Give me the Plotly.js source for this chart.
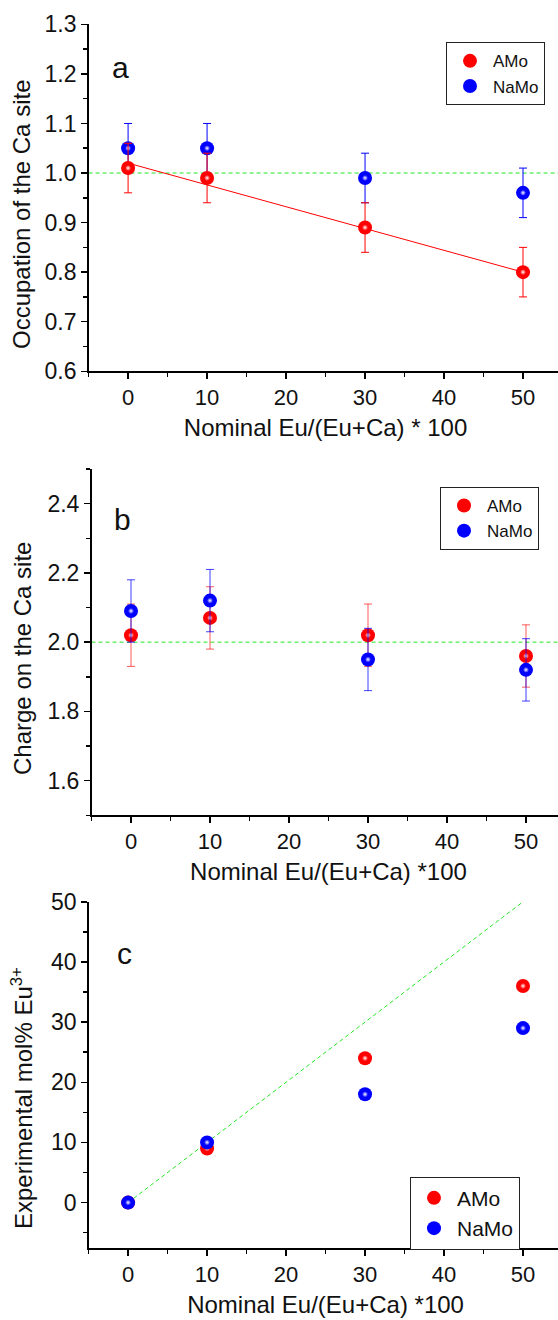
<!DOCTYPE html>
<html><head><meta charset="utf-8">
<script src="https://cdn.plot.ly/plotly-3.0.1.min.js"></script>
<style>html,body{margin:0;padding:0;overflow:hidden;background:#fff}#chart{width:570px;height:1320px}</style>
</head><body><div id="chart"></div>
<script>
// ---------- data ----------
const nominal = [0, 10, 30, 50];
const seriesNames = ['AMo', 'NaMo'];

const occAMo = [1.01, 0.99, 0.89, 0.80];
const occAMoErr = [0.05, 0.05, 0.05, 0.05];
const occNaMo = [1.05, 1.05, 0.99, 0.96];
const occNaMoErr = [0.05, 0.05, 0.05, 0.05];
const occFitX = [0, 50];
const occFitY = [1.02, 0.80];
const occRef = [1.0];

const chgAMo = [2.02, 2.07, 2.02, 1.96];
const chgAMoErr = [0.09, 0.09, 0.09, 0.09];
const chgNaMo = [2.09, 2.12, 1.95, 1.92];
const chgNaMoErr = [0.09, 0.09, 0.09, 0.09];
const chgRef = [2.0];

const expAMo = [0, 9, 24, 36];
const expNaMo = [0, 10, 18, 29];
const idealX = [0, 50];
const idealY = [0, 50];

const panelLabels = ['a', 'b', 'c'];
const xTitles = ['Nominal Eu/(Eu+Ca) * 100', 'Nominal Eu/(Eu+Ca) *100', 'Nominal Eu/(Eu+Ca) *100'];
const yTitles = ['Occupation of the Ca site', 'Charge on the Ca site', 'Experimental mol% Eu<sup>3+</sup>'];

// ---------- layout helpers ----------
const W = 570, H = 1320;
const fx = p => p / W;
const fy = p => 1 - p / H;
const FONT = 'Liberation Sans, Arial, sans-serif';
const RED = '#ff0000', BLUE = '#0000ff', GREEN = '#22e622';

const P = [
  {l: 88.6, r: 562.5, t: 24.3, b: 371.3},
  {l: 91.5, r: 565.5, t: 469, b: 815.3},
  {l: 88.6, r: 562.5, t: 901.7, b: 1248.3}
];

function pts(x, y, err, name, color, errColor, xa, ya, leg, rank, show) {
  const base = {
    type: 'scatter', mode: 'markers', x: x, y: y, name: name,
    xaxis: xa, yaxis: ya, legend: leg, legendrank: rank, showlegend: show,
    marker: {size: 14, color: color, line: {width: 0}}
  };
  if (err) base.error_y = {type: 'data', array: err, visible: true, color: errColor, thickness: 1, width: 4};
  const hi = {
    type: 'scatter', mode: 'markers', x: x, y: y, xaxis: xa, yaxis: ya,
    showlegend: false, hoverinfo: 'skip',
    marker: {size: 6, color: color, gradient: {type: 'radial', color: '#ffffff'}, line: {width: 0}}
  };
  return [base, hi];
}

const traces = [];
// panel a
traces.push({type: 'scatter', mode: 'lines', x: occFitX, y: occFitY, xaxis: 'x', yaxis: 'y',
  line: {color: RED, width: 1}, showlegend: false, hoverinfo: 'skip'});
traces.push(...pts(nominal, occNaMo, occNaMoErr, seriesNames[1], BLUE, BLUE, 'x', 'y', 'legend', 2, true));
traces.push(...pts(nominal, occAMo, occAMoErr, seriesNames[0], RED, RED, 'x', 'y', 'legend', 1, true));
// panel b
traces.push(...pts(nominal, chgAMo, chgAMoErr, seriesNames[0], RED, 'rgba(255,0,0,0.65)', 'x2', 'y2', 'legend2', 1, true));
traces.push(...pts(nominal, chgNaMo, chgNaMoErr, seriesNames[1], BLUE, 'rgba(0,0,255,0.75)', 'x2', 'y2', 'legend2', 2, true));
// panel c
traces.push({type: 'scatter', mode: 'lines', x: idealX, y: idealY, xaxis: 'x3', yaxis: 'y3',
  line: {color: GREEN, width: 1, dash: '4px,3px'}, showlegend: false, hoverinfo: 'skip'});
traces.push(...pts(nominal, expAMo, null, seriesNames[0], RED, RED, 'x3', 'y3', 'legend3', 1, true));
traces.push(...pts(nominal, expNaMo, null, seriesNames[1], BLUE, BLUE, 'x3', 'y3', 'legend3', 2, true));

const common = {
  showline: true, linecolor: '#000', linewidth: 1.5, showgrid: false, zeroline: false,
  tickcolor: '#000', tickwidth: 1.5, fixedrange: true, autorange: false
};
function xMain(i, anchor, title) {
  return Object.assign({}, common, {
    domain: [fx(P[i].l), fx(P[i].r)], anchor: anchor, range: [-5, 55],
    tick0: 0, dtick: 10, ticks: 'outside', ticklen: 6,
    minor: {tick0: 0, dtick: 5, ticks: 'outside', ticklen: 4, tickwidth: 1.5, tickcolor: '#000'},
    tickfont: {size: 22, color: '#111'},
    title: {text: title, font: {size: 24, color: '#111'}, standoff: 10}
  });
}
function xTop(over, anchor) {
  return Object.assign({}, common, {
    overlaying: over, anchor: anchor, side: 'top', range: [-5, 55],
    tick0: 0, dtick: 10, ticks: 'inside', ticklen: 6, showticklabels: false,
    minor: {tick0: 0, dtick: 5, ticks: 'inside', ticklen: 4, tickwidth: 1.5, tickcolor: '#000'}
  });
}
function yMain(i, anchor, range, tick0, dtick, mdt, fmt) {
  return Object.assign({}, common, {
    domain: [fy(P[i].b), fy(P[i].t)], anchor: anchor, range: range,
    tick0: tick0, dtick: dtick, ticks: 'outside', ticklen: 6, tickformat: fmt,
    minor: {tick0: tick0, dtick: mdt, ticks: 'outside', ticklen: 4, tickwidth: 1.5, tickcolor: '#000'},
    tickfont: {size: 23, color: '#111'}
  });
}
function yRight(over, anchor, range, tick0, dtick, mdt) {
  return Object.assign({}, common, {
    overlaying: over, anchor: anchor, side: 'right', range: range,
    tick0: tick0, dtick: dtick, ticks: 'inside', ticklen: 6, showticklabels: false,
    minor: {tick0: tick0, dtick: mdt, ticks: 'inside', ticklen: 4, tickwidth: 1.5, tickcolor: '#000'}
  });
}

const rA = [0.5999, 1.3001], rB = [1.5, 2.5], rC = [-7.6, 50.01];

function legendBox(left, top, size) {
  return {x: fx(left), y: fy(top), xanchor: 'left', yanchor: 'top', bgcolor: '#fff',
    bordercolor: '#222', borderwidth: 1, font: {size: size, color: '#111'}, itemwidth: 36,
    traceorder: 'normal'};
}

const ann = [];
// y titles
const yTitleCenters = [215, 659, 1098];
yTitles.forEach((t, i) => ann.push({text: t, xref: 'paper', yref: 'paper', x: fx(22), y: fy(yTitleCenters[i]),
  xanchor: 'center', yanchor: 'middle', textangle: -90, showarrow: false, font: {size: 24, color: '#111'}}));
// panel labels
const labelPos = [[120, 67.4], [122, 519.6], [124, 953]];
panelLabels.forEach((t, i) => ann.push({text: t, xref: 'paper', yref: 'paper', x: fx(labelPos[i][0]), y: fy(labelPos[i][1]),
  xanchor: 'center', yanchor: 'middle', showarrow: false, font: {size: 30, color: '#111'}}));

const refLine = {color: GREEN, width: 1, dash: '4px,3px'};
const layout = {
  width: W, height: H, margin: {l: 0, r: 0, t: 0, b: 0},
  paper_bgcolor: '#fff', plot_bgcolor: '#fff',
  font: {family: FONT, color: '#111'},
  xaxis: xMain(0, 'y', xTitles[0]),
  yaxis: yMain(0, 'x', rA, 0.6, 0.1, 0.05, '.1f'),
  xaxis4: xTop('x', 'y'),
  yaxis4: yRight('y', 'x', rA, 0.6, 0.1, 0.05),
  xaxis2: xMain(1, 'y2', xTitles[1]),
  yaxis2: yMain(1, 'x2', rB, 1.6, 0.2, 0.1, '.1f'),
  xaxis5: xTop('x2', 'y2'),
  yaxis5: yRight('y2', 'x2', rB, 1.6, 0.2, 0.1),
  xaxis3: xMain(2, 'y3', xTitles[2]),
  yaxis3: yMain(2, 'x3', rC, 0, 10, 5, 'd'),
  xaxis6: xTop('x3', 'y3'),
  yaxis6: yRight('y3', 'x3', rC, 0, 10, 5),
  legend: legendBox(446, 42.3, 17),
  legend2: legendBox(440, 487, 17),
  legend3: legendBox(410, 1176.7, 21),
  shapes: [
    {type: 'line', xref: 'x domain', yref: 'y', x0: 0, x1: 1, y0: occRef[0], y1: occRef[0], line: refLine, layer: 'below'},
    {type: 'line', xref: 'x2 domain', yref: 'y2', x0: 0, x1: 1, y0: chgRef[0], y1: chgRef[0], line: refLine, layer: 'below'}
  ],
  annotations: ann,
  showlegend: true
};

Plotly.newPlot('chart', traces, layout, {displayModeBar: false, staticPlot: true});
</script>
</body></html>
